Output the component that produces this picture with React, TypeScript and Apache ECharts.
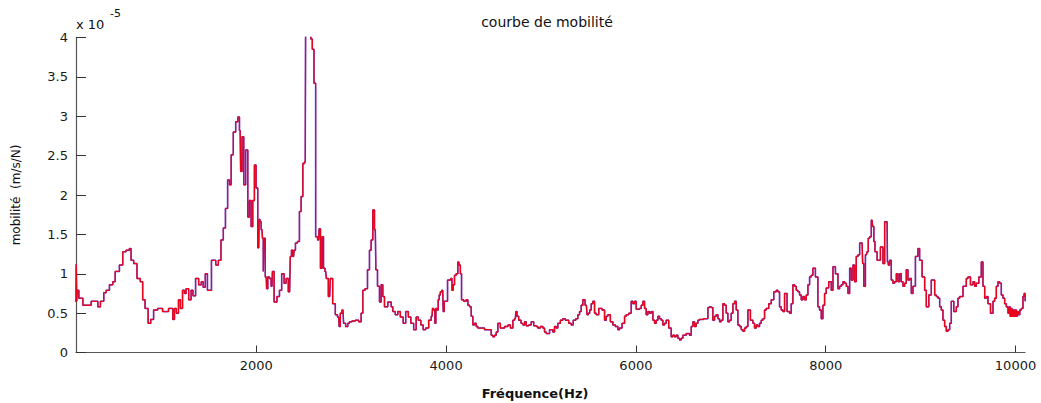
import React, { useEffect, useRef } from "react";
import * as echarts from "echarts";

// Frequency (Hz) of each sample
const freqHz: number[] = [
  100, 105, 110, 115, 145, 200, 320, 340, 375, 410, 425, 480, 495, 530, 585, 600, 655, 670, 690, 725,
  760, 795, 810, 845, 875, 900, 935, 985, 1040, 1110, 1130, 1145, 1170, 1190, 1210, 1235, 1250, 1270, 1305, 1320,
  1345, 1375, 1410, 1430, 1450, 1475, 1495, 1560, 1585, 1615, 1640, 1665, 1685, 1710, 1725, 1745, 1770, 1795, 1815, 1830,
  1840, 1860, 1875, 1900, 1920, 1935, 1955, 1970, 1990, 2005, 2025, 2035,
  2042, 2060, 2070, 2077, 2084, 2105, 2112, 2130, 2147, 2165, 2175, 2200, 2235, 2253, 2281, 2305, 2323, 2351, 2365, 2376,
  2393, 2404, 2421, 2446, 2463, 2481, 2499, 2516, 2525, 2545, 2570, 2580, 2600, 2615, 2635, 2657, 2667, 2685, 2700, 2716,
  2731, 2745, 2773, 2787, 2822, 2843, 2868, 2878, 2892, 2913, 2927, 2955, 2973, 2990, 3026, 3061, 3096, 3113, 3131, 3159,
  3184, 3201, 3219, 3236, 3254, 3265, 3289, 3307, 3324, 3342, 3359, 3412, 3430, 3447, 3482, 3500, 3535, 3560, 3588, 3616,
  3640, 3676, 3693, 3721, 3746, 3770, 3798,
  3834, 3852, 3862, 3876, 3887, 3897, 3911, 3922, 3932, 3946, 3964, 3975, 3985, 4045, 4055, 4069, 4080, 4097, 4115, 4133,
  4143, 4157, 4168, 4203, 4220, 4238, 4256, 4273, 4291, 4308, 4326, 4343, 4466, 4484, 4501, 4519, 4537, 4554, 4589, 4642,
  4660, 4695, 4712, 4730, 4740, 4754, 4775, 4804, 4818, 4835, 4853, 4888, 4905, 4941, 4958, 4976, 5011, 5028, 5046, 5064,
  5116, 5134, 5151, 5169, 5186, 5222, 5239, 5274, 5309, 5327, 5352, 5380, 5397, 5415, 5432, 5450, 5478, 5492, 5506, 5520,
  5538, 5555, 5573, 5591, 5626, 5661, 5678, 5696, 5713, 5749, 5766, 5801, 5819, 5836, 5872, 5889, 5907, 5942, 5959, 5977,
  5994, 6012, 6030,
  6047, 6065, 6082, 6100, 6117, 6135, 6152, 6170, 6188, 6205, 6223, 6240, 6258, 6275, 6293, 6310, 6328, 6363, 6381, 6398,
  6416, 6433, 6451, 6469, 6486, 6504, 6556, 6574, 6592, 6609, 6627, 6644, 6662, 6679, 6750, 6767, 6785, 6802, 6820, 6837,
  6855, 6873, 6890, 6908, 6925, 6943, 6960, 6978, 6996, 7013, 7031, 7048, 7066, 7083, 7101, 7119, 7136, 7154, 7171, 7189,
  7224, 7241, 7259, 7277, 7294, 7312, 7329, 7347, 7364, 7382, 7417, 7435, 7470, 7487, 7505, 7522, 7540, 7558, 7575, 7610,
  7628, 7645, 7663, 7681, 7698, 7716, 7733, 7751, 7768, 7786, 7804, 7821, 7839, 7856, 7874, 7909, 7926, 7944, 7962, 7979,
  7997, 8014, 8049,
  8068, 8085, 8120, 8138, 8155, 8173, 8190, 8208, 8226, 8243, 8261, 8278, 8296, 8313, 8331, 8349, 8366, 8384, 8394, 8408,
  8429, 8443, 8454, 8472, 8489, 8500, 8514, 8524, 8559, 8594, 8612, 8630, 8647, 8654, 8665, 8682, 8700, 8717, 8735, 8753,
  8770, 8788, 8805, 8823, 8840, 8858, 8876, 8893, 8911, 8928, 8963, 8981, 8998, 9034, 9051, 9069, 9104, 9121, 9139, 9157,
  9174, 9192, 9209, 9227, 9244, 9262, 9280, 9297, 9315, 9332, 9367, 9385, 9402, 9420, 9473, 9490, 9508, 9543, 9561, 9578,
  9596, 9631, 9648, 9666, 9684, 9701, 9719, 9754, 9771, 9789, 9807, 9824, 9842, 9859, 9877, 9894, 9912, 9930, 9940, 9947,
  9958, 9968, 9982, 9993, 10003, 10014, 10024, 10038, 10052, 10070, 10087, 10098, 10105,
];

// Mobility in units of 1e-5 m/s/N
const mobility: number[] = [
  0.64, 1.12, 0.65, 0.79, 0.69, 0.60, 0.65, 0.58, 0.65, 0.76, 0.79, 0.86, 0.90, 1.03, 1.11, 1.28, 1.30, 1.32, 1.17, 1.13,
  0.94, 0.90, 0.67, 0.56, 0.37, 0.42, 0.54, 0.56, 0.52, 0.56, 0.42, 0.56, 0.50, 0.67, 0.56, 0.79, 0.75, 0.81, 0.67, 0.79,
  0.72, 0.94, 0.86, 0.90, 0.83, 1.00, 0.79, 1.17, 1.11, 1.17, 1.43, 1.58, 1.83, 2.19, 2.13, 2.51, 2.80, 2.93, 2.99, 2.82,
  2.30, 2.74, 2.13, 2.57, 1.72, 1.93, 1.60, 1.93, 2.38, 2.09, 1.33, 1.69,
  1.66, 1.56, 1.45, 1.03, 1.45, 0.96, 0.81, 0.96, 0.94, 0.84, 1.03, 0.64, 0.71, 0.79, 1.00, 0.88, 0.94, 0.77, 1.22, 1.30,
  1.22, 1.30, 1.39, 1.41, 1.79, 1.98, 2.40, 2.42, 4.80, 5.50, 4.60, 3.98, 3.85, 3.42, 1.47, 1.43, 1.57, 1.07, 1.47, 1.07,
  1.03, 0.94, 0.71, 0.94, 0.62, 0.48, 0.45, 0.33, 0.50, 0.54, 0.37, 0.33, 0.37, 0.39, 0.40, 0.41, 0.39, 0.50, 0.79, 0.81,
  1.05, 1.30, 1.43, 1.81, 1.56, 1.05, 0.84, 0.64, 0.86, 0.71, 0.58, 0.64, 0.58, 0.52, 0.48, 0.52, 0.45, 0.37, 0.52, 0.45,
  0.37, 0.29, 0.45, 0.41, 0.35, 0.29, 0.31,
  0.41, 0.46, 0.56, 0.54, 0.37, 0.56, 0.54, 0.67, 0.73, 0.77, 0.79, 0.52, 0.65, 0.92, 0.94, 0.79, 0.86, 0.98, 1.00, 1.15,
  1.11, 1.00, 0.67, 0.65, 0.67, 0.60, 0.58, 0.46, 0.35, 0.37, 0.33, 0.31, 0.29, 0.22, 0.20, 0.22, 0.26, 0.37, 0.31, 0.33,
  0.35, 0.31, 0.41, 0.43, 0.52, 0.46, 0.41, 0.37, 0.35, 0.39, 0.34, 0.35, 0.39, 0.34, 0.33, 0.31, 0.33, 0.31, 0.26, 0.24,
  0.29, 0.26, 0.33, 0.31, 0.37, 0.41, 0.43, 0.41, 0.37, 0.35, 0.41, 0.43, 0.48, 0.52, 0.60, 0.67, 0.60, 0.48, 0.50, 0.54,
  0.62, 0.65, 0.50, 0.48, 0.56, 0.54, 0.41, 0.46, 0.48, 0.39, 0.35, 0.33, 0.29, 0.31, 0.37, 0.46, 0.48, 0.50, 0.65, 0.62,
  0.65, 0.55, 0.55,
  0.56, 0.60, 0.65, 0.56, 0.48, 0.52, 0.50, 0.52, 0.41, 0.37, 0.41, 0.46, 0.43, 0.41, 0.35, 0.37, 0.41, 0.31, 0.20, 0.22,
  0.20, 0.22, 0.18, 0.16, 0.18, 0.22, 0.24, 0.22, 0.33, 0.39, 0.33, 0.37, 0.41, 0.42, 0.43, 0.57, 0.58, 0.57, 0.41, 0.46,
  0.48, 0.43, 0.39, 0.41, 0.62, 0.60, 0.50, 0.39, 0.41, 0.50, 0.62, 0.65, 0.54, 0.35, 0.33, 0.29, 0.27, 0.31, 0.33, 0.54,
  0.41, 0.37, 0.31, 0.35, 0.33, 0.37, 0.41, 0.43, 0.54, 0.56, 0.62, 0.67, 0.77, 0.79, 0.77, 0.58, 0.54, 0.52, 0.75, 0.52,
  0.50, 0.62, 0.86, 0.84, 0.79, 0.77, 0.73, 0.67, 0.71, 0.67, 0.73, 0.86, 0.96, 0.98, 1.07, 0.96, 0.58, 0.54, 0.43, 0.60,
  0.75, 0.82, 0.90,
  0.79, 1.09, 1.00, 0.81, 0.84, 0.86, 0.90, 0.88, 0.84, 0.75, 1.07, 0.92, 1.11, 0.90, 1.22, 1.24, 1.39, 1.39, 1.13, 0.84,
  1.24, 1.28, 1.45, 1.47, 1.68, 1.60, 1.41, 1.28, 1.17, 1.34, 1.13, 1.66, 1.66, 1.15, 1.11, 1.17, 0.92, 0.88, 0.90, 1.00,
  0.90, 1.00, 0.90, 0.84, 0.88, 1.05, 0.92, 0.94, 0.75, 0.84, 1.22, 1.32, 1.17, 0.96, 0.79, 0.58, 0.73, 0.92, 0.92, 0.73,
  0.71, 0.69, 0.58, 0.54, 0.41, 0.33, 0.27, 0.29, 0.37, 0.65, 0.52, 0.58, 0.69, 0.71, 0.84, 0.94, 0.96, 0.86, 0.90, 0.84,
  0.88, 0.96, 1.15, 0.84, 0.69, 0.71, 0.62, 0.50, 0.65, 0.69, 0.84, 0.90, 0.88, 0.73, 0.69, 0.62, 0.58, 0.50, 0.58, 0.46,
  0.56, 0.46, 0.54, 0.46, 0.54, 0.46, 0.52, 0.48, 0.54, 0.56, 0.71, 0.75, 0.65,
];

const xTickValues: number[] = [2000, 4000, 6000, 8000, 10000];
const yTickLabels: string[] = ["0", "0.5", "1", "1.5", "2", "2.5", "3", "3.5", "4"];

const FONT = "'DejaVu Sans', 'Liberation Sans', sans-serif";

export default function App() {
  const ref = useRef<HTMLDivElement>(null);
  useEffect(() => {
    if (!ref.current) return;
    const chart = echarts.init(ref.current, null, { renderer: "svg" });
    const pairs = freqHz.map((f, i) => [f, mobility[i]]);
    chart.setOption({
      animation: false,
      backgroundColor: "#ffffff",
      grid: { left: 76, right: 16, top: 37.5, bottom: 50.5, containLabel: false },
      xAxis: {
        type: "value",
        min: 100,
        max: 10100,
        axisLine: { show: true, lineStyle: { color: "#555555", width: 1.2 } },
        axisTick: { show: true, inside: true, length: 7, customValues: xTickValues, lineStyle: { color: "#333333" } },
        axisLabel: {
          customValues: xTickValues,
          margin: 6,
          fontSize: 13,
          color: "#1a1a1a",
          fontFamily: FONT,
          formatter: (v: number) => String(v),
        },
        splitLine: { show: false },
      },
      yAxis: {
        type: "value",
        min: 0,
        max: 4,
        interval: 0.5,
        axisLine: { show: true, lineStyle: { color: "#555555", width: 1.2 } },
        axisTick: { show: true, inside: true, length: 10, lineStyle: { color: "#333333" } },
        axisLabel: {
          margin: 8,
          fontSize: 13,
          color: "#1a1a1a",
          fontFamily: FONT,
          formatter: (v: number) => yTickLabels[Math.round(v / 0.5)] ?? String(v),
        },
        splitLine: { show: false },
      },
      series: [
        {
          type: "line",
          data: pairs,
          step: "middle",
          showSymbol: false,
          clip: true,
          lineStyle: { color: "#3030ff", width: 1.5 },
          z: 2,
        },
        {
          type: "line",
          data: pairs,
          step: "middle",
          showSymbol: false,
          clip: true,
          lineStyle: { color: "#ff0000", width: 1.3, opacity: 0.9 },
          z: 3,
        },
      ],
      graphic: [
        {
          type: "text",
          x: 547,
          y: 22,
          style: {
            text: "courbe de mobilité",
            fontSize: 14,
            fontFamily: FONT,
            fill: "#111111",
            align: "center",
            verticalAlign: "middle",
          },
        },
        {
          type: "text",
          x: 76,
          y: 24,
          style: {
            text: "x 10",
            fontSize: 13,
            fontFamily: FONT,
            fill: "#111111",
            align: "left",
            verticalAlign: "middle",
          },
        },
        {
          type: "text",
          x: 110,
          y: 13,
          style: {
            text: "-5",
            fontSize: 11,
            fontFamily: FONT,
            fill: "#111111",
            align: "left",
            verticalAlign: "middle",
          },
        },
        {
          type: "text",
          x: 535,
          y: 393,
          style: {
            text: "Fréquence(Hz)",
            fontSize: 13,
            fontWeight: "bold",
            fontFamily: FONT,
            fill: "#111111",
            align: "center",
            verticalAlign: "middle",
          },
        },
        {
          type: "text",
          x: 16,
          y: 195,
          rotation: Math.PI / 2,
          style: {
            text: "mobilité  (m/s/N)",
            fontSize: 12,
            fontFamily: FONT,
            fill: "#111111",
            align: "center",
            verticalAlign: "middle",
          },
        },
      ],
    });
    return () => chart.dispose();
  }, []);
  return <div ref={ref} style={{ position: "fixed", left: 0, top: 0, width: 1041, height: 403 }} />;
}
